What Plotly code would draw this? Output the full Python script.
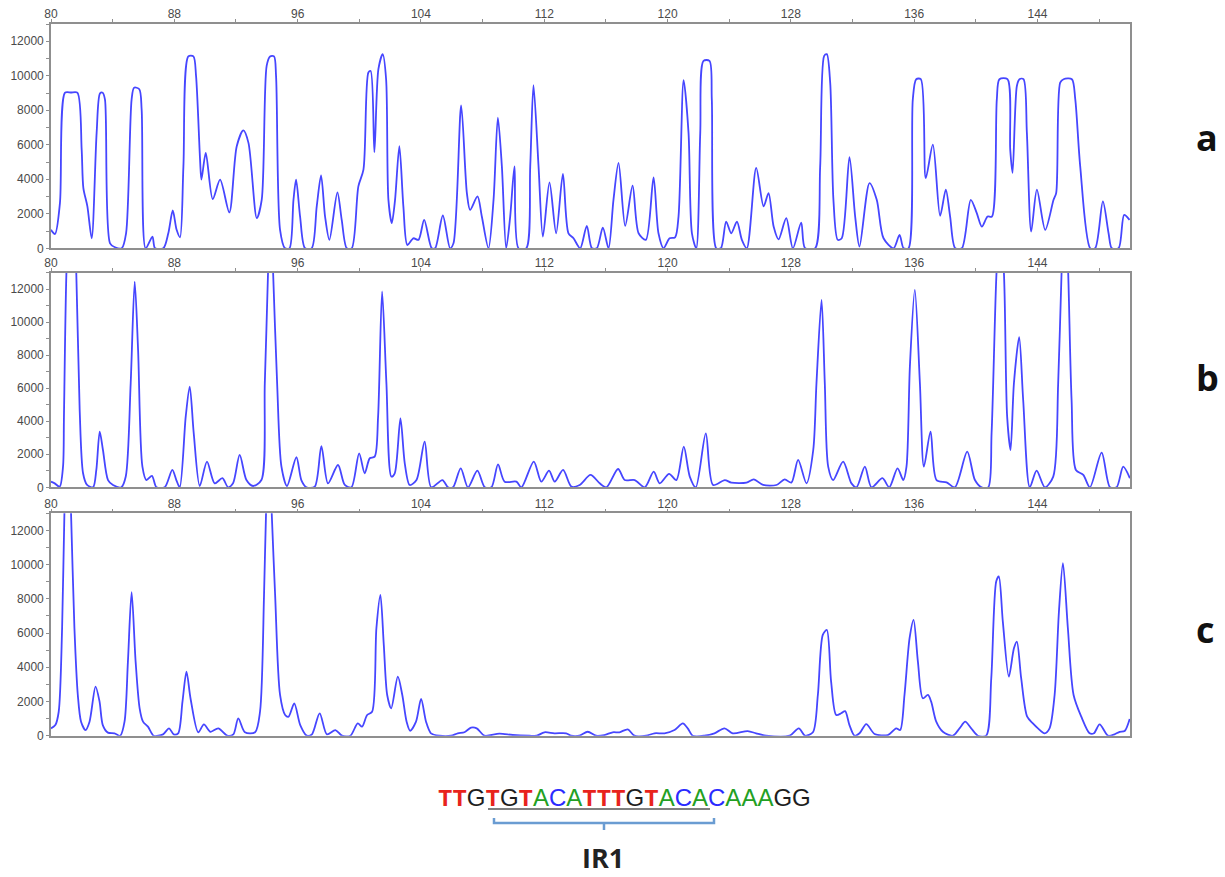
import plotly.graph_objects as go

# ---------------- data ----------------
x_ticks = [80, 88, 96, 104, 112, 120, 128, 136, 144]
x_tick_labels = [str(v) for v in x_ticks]
y_ticks = [0, 2000, 4000, 6000, 8000, 10000, 12000]
y_tick_labels = [str(v) for v in y_ticks]
panel_labels = ["a", "b", "c"]

trace_a = [
    (80.0, 1070), (80.26, 830), (80.58, 2620), (80.91, 9020), (81.3, 9030), (81.71, 9020),
    (81.99, 5720), (82.10, 3490), (82.36, 2430), (82.64, 580), (82.96, 6690), (83.18, 8980),
    (83.35, 9020), (83.50, 8630), (83.83, 290), (84.15, 60), (84.59, 0), (84.87, 870),
    (85.23, 8630), (85.39, 9310), (85.73, 9220), (85.88, 8050), (86.14, 0), (86.58, 680),
    (86.75, 0), (87.29, 0), (87.61, 870), (87.90, 2190), (88.15, 1070), (88.37, 640),
    (88.59, 4750), (88.91, 11120), (89.24, 11120), (89.41, 9990), (89.67, 5140), (89.76, 3980),
    (90.04, 5530), (90.49, 2850), (90.97, 3980), (91.57, 2080), (92.05, 5920), (92.48, 6830),
    (92.81, 6110), (93.35, 1750), (93.67, 2810), (93.99, 10570), (94.21, 11120), (94.47, 11120),
    (94.60, 9990), (94.86, 1070), (95.18, 0), (95.47, 0), (95.73, 2810), (95.90, 3980),
    (96.16, 1840), (96.48, 0), (96.91, 0), (97.24, 2430), (97.52, 4230), (97.78, 1840),
    (98.06, 490), (98.58, 3240), (98.86, 1650), (99.19, 0), (99.51, 0), (99.94, 3590),
    (100.27, 4560), (100.59, 10190), (100.74, 10280), (100.98, 5570), (101.24, 10380),
    (101.52, 11250), (101.74, 9800), (101.89, 2810), (102.11, 1460), (102.32, 2810),
    (102.60, 5920), (102.86, 2430), (103.12, 190), (103.51, 580), (103.84, 490),
    (104.21, 1650), (104.70, 0), (104.92, 0), (105.42, 1900), (105.89, 0), (106.11, 290),
    (106.61, 8280), (106.98, 3200), (107.19, 2230), (107.67, 3010), (107.95, 1840), (108.38, 0),
    (108.71, 2810), (108.99, 7570), (109.25, 4750), (109.53, 0), (109.79, 1840), (110.07, 4750),
    (110.33, 0), (110.83, 0), (111.09, 4750), (111.30, 9450), (111.63, 4750), (111.91, 680),
    (112.34, 3820), (112.77, 870), (113.21, 4310), (113.57, 870), (113.90, 580), (114.33, 0),
    (114.76, 1300), (115.09, 0), (115.41, 0), (115.80, 1200), (116.17, 0), (116.49, 2810),
    (116.82, 4950), (117.25, 1300), (117.73, 3630), (118.12, 870), (118.59, 490), (119.09, 4110),
    (119.41, 870), (119.74, 0), (120.13, 580), (120.49, 640), (120.71, 1840), (121.04, 9740),
    (121.36, 6690), (121.58, 870), (121.86, 0), (122.12, 6690), (122.33, 10860), (122.72, 10860),
    (122.87, 8630), (123.16, 0), (123.46, 0), (123.80, 1550), (124.13, 870), (124.50, 1550),
    (124.82, 490), (125.14, 0), (125.75, 4660), (126.23, 2430), (126.55, 3200), (126.88, 1260),
    (127.20, 520), (127.70, 1750), (128.13, 0), (128.67, 1490), (128.92, 0), (129.57, 0),
    (129.90, 4750), (130.16, 11150), (130.33, 11250), (130.55, 9600), (130.76, 2810),
    (131.04, 490), (131.30, 580), (131.80, 5280), (132.17, 1840), (132.45, 100), (133.10, 3780),
    (133.57, 2810), (134.01, 580), (134.66, 0), (135.05, 780), (135.31, 0), (135.63, 0),
    (135.91, 8630), (136.13, 9800), (136.43, 9800), (136.75, 4070), (137.21, 6010),
    (137.68, 1880), (138.05, 3400), (138.33, 1840), (138.66, 0), (139.09, 0), (139.67, 2810),
    (140.06, 2040), (140.39, 1260), (140.76, 1840), (141.04, 1840), (141.36, 8630),
    (141.53, 9800), (142.05, 9800), (142.23, 5720), (142.38, 4370), (142.66, 9410),
    (142.83, 9800), (143.09, 9800), (143.31, 6690), (143.59, 970), (143.96, 3400),
    (144.50, 1070), (145.04, 2810), (145.21, 3200), (145.47, 9600), (145.69, 9800),
    (146.23, 9800), (146.45, 8630), (146.77, 4750), (147.42, 0), (147.74, 0), (148.24, 2720),
    (148.61, 870), (148.82, 0), (149.26, 0), (149.62, 1940), (149.97, 1650),
]

trace_b = [
    (80.0, 340), (80.24, 240), (80.56, 40), (80.78, 1250), (80.84, 4280), (81.0, 13000),
    (81.32, 20000), (81.64, 13000), (81.86, 4690), (82.08, 850), (82.34, 140), (82.73, 0),
    (82.94, 1050), (83.16, 3370), (83.37, 2260), (83.70, 440), (84.02, 140), (84.56, 0),
    (84.85, 650), (85.17, 6300), (85.43, 12460), (85.65, 8320), (85.93, 1250), (86.19, 440),
    (86.55, 690), (86.84, 0), (87.38, 0), (87.87, 1050), (88.13, 440), (88.35, 0),
    (88.74, 4280), (89.00, 6100), (89.26, 3270), (89.65, 80), (90.12, 1560), (90.62, 240),
    (91.12, 550), (91.49, 0), (91.81, 240), (92.24, 1960), (92.68, 440), (93.11, 80),
    (93.65, 440), (93.87, 6300), (94.08, 13000), (94.23, 18000), (94.41, 13000), (94.67, 6300),
    (94.95, 1250), (95.31, 80), (95.92, 1820), (96.24, 440), (96.57, 0), (97.11, 40),
    (97.54, 2500), (97.97, 240), (98.62, 1350), (99.06, 140), (99.49, 0), (99.99, 2060),
    (100.35, 850), (100.68, 1760), (101.00, 1860), (101.22, 4280), (101.48, 11860),
    (101.76, 6300), (102.08, 650), (102.30, 850), (102.67, 4180), (102.95, 1450),
    (103.27, 140), (103.71, 440), (104.24, 2770), (104.67, 0), (105.39, 440), (105.76, 0),
    (106.08, 0), (106.58, 1150), (107.05, 0), (107.66, 1010), (108.14, 0), (108.57, 0),
    (109.00, 1390), (109.43, 340), (110.19, 340), (110.52, 0), (111.32, 1560), (111.81, 340),
    (112.31, 1010), (112.68, 340), (113.22, 1050), (113.76, 40), (114.30, 140), (115.00, 750),
    (115.60, 240), (116.03, 0), (116.79, 1110), (117.22, 440), (117.87, 440), (118.52, 0),
    (119.10, 950), (119.49, 240), (120.10, 810), (120.57, 440), (121.05, 2460), (121.44, 650),
    (121.83, 0), (122.48, 3270), (122.95, 140), (123.71, 440), (124.14, 280), (125.12, 280),
    (125.59, 480), (126.20, 140), (127.06, 140), (127.60, 480), (128.03, 280), (128.47, 1660),
    (129.01, 240), (129.45, 2260), (129.66, 6300), (129.99, 11350), (130.20, 6300),
    (130.42, 1250), (130.74, 440), (131.39, 1560), (131.93, 240), (132.26, 0), (132.80, 1250),
    (133.23, 0), (133.94, 550), (134.38, 0), (134.92, 1150), (135.29, 440), (135.50, 1250),
    (135.72, 7310), (136.04, 11960), (136.37, 6300), (136.63, 1250), (137.06, 3370),
    (137.45, 440), (138.10, 300), (138.64, 0), (139.44, 2160), (139.94, 440), (140.37, 0),
    (140.80, 0), (141.02, 3270), (141.34, 13000), (141.56, 16000), (141.82, 13000),
    (142.03, 4280), (142.25, 2260), (142.47, 6300), (142.81, 9090), (143.07, 5290),
    (143.50, 0), (143.94, 1010), (144.48, 0), (145.02, 650), (145.34, 6300), (145.56, 13000),
    (145.78, 18000), (145.99, 13000), (146.21, 5290), (146.49, 1050), (146.97, 750),
    (147.40, 0), (148.16, 2100), (148.70, 0), (149.13, 0), (149.56, 1250), (149.99, 550),
]

trace_c = [
    (80.0, 430), (80.28, 620), (80.50, 1400), (80.72, 6280), (80.87, 13000), (81.08, 19000),
    (81.30, 13000), (81.52, 6280), (81.74, 2380), (81.95, 820), (82.24, 330), (82.50, 820),
    (82.89, 2870), (83.15, 1990), (83.36, 620), (83.69, 180), (84.12, 140), (84.49, 0),
    (84.77, 820), (84.99, 4330), (85.23, 8390), (85.49, 4330), (85.75, 1600), (85.97, 820),
    (86.29, 530), (86.66, 0), (87.27, 80), (87.66, 430), (87.96, 80), (88.25, 140),
    (88.53, 1990), (88.79, 3750), (89.05, 2190), (89.55, 200), (89.92, 660), (90.35, 230),
    (90.85, 430), (91.44, 0), (91.83, 80), (92.15, 1010), (92.58, 200), (93.24, 200),
    (93.56, 1400), (93.82, 8230), (93.95, 13000), (94.15, 17000), (94.32, 13000),
    (94.54, 8230), (94.86, 2380), (95.19, 1210), (95.41, 1110), (95.78, 1890), (96.17, 620),
    (96.60, 0), (96.93, 80), (97.43, 1310), (97.90, 80), (98.45, 330), (98.88, 0), (99.42, 0),
    (99.90, 720), (100.18, 530), (100.51, 1210), (100.83, 1400), (101.11, 6280),
    (101.37, 8230), (101.59, 5310), (101.81, 2380), (102.07, 1600), (102.50, 3450),
    (102.79, 2380), (103.07, 820), (103.30, 290), (103.68, 820), (104.01, 2150), (104.33, 820),
    (104.65, 140), (105.20, 0), (105.95, 0), (106.39, 140), (106.82, 200), (107.25, 470),
    (107.62, 430), (108.12, 0), (109.09, 120), (109.95, 40), (111.04, 0), (111.51, 0),
    (112.01, 200), (112.66, 140), (113.42, 140), (113.74, 0), (114.28, 0), (114.82, 230),
    (115.36, 0), (115.90, 40), (116.44, 200), (116.88, 200), (117.42, 370), (117.85, 0),
    (118.61, 0), (119.15, 140), (119.80, 140), (120.45, 330), (120.99, 720), (121.31, 430),
    (121.63, 0), (122.39, 0), (123.04, 140), (123.69, 430), (124.23, 140), (125.20, 270),
    (125.74, 140), (126.39, 0), (127.91, 0), (128.51, 430), (128.92, 0), (129.43, 200),
    (129.75, 2380), (130.07, 5890), (130.33, 6180), (130.61, 3160), (130.94, 1210),
    (131.26, 1310), (131.52, 1440), (131.80, 620), (132.13, 0), (132.45, 140), (132.89, 680),
    (133.43, 100), (134.29, 40), (134.83, 430), (135.09, 330), (135.37, 2380), (135.70, 5700),
    (135.96, 6770), (136.24, 4330), (136.56, 2190), (136.89, 2380), (137.10, 1990),
    (137.43, 820), (137.86, 230), (138.51, 0), (138.94, 430), (139.31, 820), (139.70, 430),
    (140.13, 0), (140.67, 0), (141.00, 3360), (141.32, 9010), (141.49, 9310), (141.75, 6670),
    (142.14, 3450), (142.47, 5110), (142.66, 5500), (142.94, 3360), (143.33, 1110),
    (143.70, 720), (144.03, 430), (144.46, 140), (144.78, 430), (145.11, 2380), (145.39, 7260),
    (145.65, 10090), (145.97, 6280), (146.34, 2380), (146.84, 1110), (147.38, 140),
    (147.66, 140), (148.03, 660), (148.57, 0), (149.00, 80), (149.33, 230), (149.65, 270),
    (149.98, 980),
]

sequence = "TTGTGTACATTTGTACACAAAGG"
base_colors = {"T": "#e8231c", "G": "#1e1e1e", "A": "#23a023", "C": "#2a2aff"}
motif_label = "IR1"

# ---------------- figure ----------------
W, H = 1225, 877


def px(x):
    return x / W


def py(y):
    return 1 - y / H


panels = [trace_a, trace_b, trace_c]
domains_y = [(248.3, 24.0), (487.3, 272.7), (735.7, 513.3)]
label_pos = [(1207, 137), (1207, 377), (1205, 629)]
line_color = "#4646ff"
axis_color = "#8f8f8f"
tick_font = dict(family="Liberation Sans, Arial, sans-serif", size=12, color="#4a4a4a")

fig = go.Figure()
for i, pts in enumerate(panels):
    xs = [p[0] for p in pts]
    ys = [p[1] for p in pts]
    n = i + 1
    sfx = "" if n == 1 else str(n)
    fig.add_trace(go.Scatter(
        x=xs, y=ys, mode="lines",
        line=dict(color=line_color, width=1.8, shape="spline", smoothing=0.8),
        xaxis="x" + sfx, yaxis="y" + sfx, showlegend=False, hoverinfo="skip",
    ))
    bottom, top = domains_y[i]
    common_x = dict(range=[80, 150], side="top", tickvals=x_ticks, tickcolor=axis_color,
                    tickwidth=1.2, showgrid=False, zeroline=False)
    common_y = dict(range=[0, 13000], tickvals=y_ticks, tickcolor=axis_color,
                    tickwidth=1.2, showgrid=False, zeroline=False)
    fig.layout["xaxis" + sfx] = dict(
        domain=[px(51), px(1130)], anchor="y" + sfx,
        ticktext=x_tick_labels, ticks="outside", ticklen=3,
        minor=dict(dtick=4, tick0=80, ticks="outside", ticklen=3, tickcolor=axis_color, tickwidth=1.2),
        showline=True, linecolor=axis_color, linewidth=1.6, mirror=True,
        tickfont=tick_font, ticklabelstandoff=-4, **common_x,
    )
    fig.layout["yaxis" + sfx] = dict(
        domain=[py(bottom), py(top)], anchor="x" + sfx,
        ticktext=y_tick_labels, ticks="outside", ticklen=3,
        minor=dict(dtick=1000, tick0=0, ticks="outside", ticklen=3, tickcolor=axis_color, tickwidth=1.2),
        showline=True, linecolor=axis_color, linewidth=1.6, mirror=True,
        tickfont=tick_font, **common_y,
    )
    # overlay axes that add the inner half of the crossing tick marks
    fig.layout["xaxis%d" % (n + 3)] = dict(
        overlaying="x" + sfx, anchor="y" + sfx, ticks="inside", ticklen=3,
        showticklabels=False, showline=False,
        minor=dict(dtick=4, tick0=80, ticks="inside", ticklen=3, tickcolor=axis_color, tickwidth=1.2),
        **common_x,
    )
    fig.layout["yaxis%d" % (n + 3)] = dict(
        overlaying="y" + sfx, anchor="x" + sfx, side="left", ticks="inside", ticklen=3,
        showticklabels=False, showline=False,
        minor=dict(dtick=1000, tick0=0, ticks="inside", ticklen=3, tickcolor=axis_color, tickwidth=1.2),
        **common_y,
    )
    lx, ly = label_pos[i]
    fig.add_annotation(
        x=px(lx), y=py(ly), xref="paper", yref="paper", xanchor="center", yanchor="middle",
        text="<b>%s</b>" % panel_labels[i], showarrow=False,
        font=dict(family="Open Sans, Liberation Sans, sans-serif", size=36, color="#111111"),
    )

# colored sequence
parts = []
for ch in sequence:
    if ch == "T":
        parts.append("<span style=\"color:%s;font-family:'Liberation Mono','Courier New',monospace;"
                     "font-weight:bold\">%s</span>" % (base_colors[ch], ch))
    else:
        parts.append('<span style="color:%s">%s</span>' % (base_colors[ch], ch))
fig.add_annotation(
    x=px(624), y=py(798), xref="paper", yref="paper", xanchor="center", yanchor="middle",
    text="".join(parts), showarrow=False,
    font=dict(family="Liberation Sans, Arial, sans-serif", size=24),
)
# underline of the motif
fig.add_shape(type="line", xref="paper", yref="paper",
              x0=px(488), x1=px(710), y0=py(809), y1=py(809),
              line=dict(color="#555555", width=1.5))
# bracket
bx0, bx1, bmid = 494, 714, 604
bracket_path = "M %f %f L %f %f L %f %f L %f %f M %f %f L %f %f" % (
    px(bx0), py(818), px(bx0), py(823), px(bx1), py(823), px(bx1), py(818),
    px(bmid), py(823), px(bmid), py(830),
)
fig.add_shape(type="path", xref="paper", yref="paper", path=bracket_path,
              line=dict(color="#6a9cd2", width=2.5))
fig.add_annotation(
    x=px(603), y=py(857), xref="paper", yref="paper", xanchor="center", yanchor="middle",
    text="<b>%s</b>" % motif_label, showarrow=False,
    font=dict(family="Open Sans, Liberation Sans, sans-serif", size=27, color="#222222"),
)

fig.update_layout(
    width=W, height=H, margin=dict(l=0, r=0, t=0, b=0, autoexpand=False),
    paper_bgcolor="white", plot_bgcolor="white",
)

fig.write_html("out.html", config={"displayModeBar": False},
               post_script="document.body.style.margin='0';")
